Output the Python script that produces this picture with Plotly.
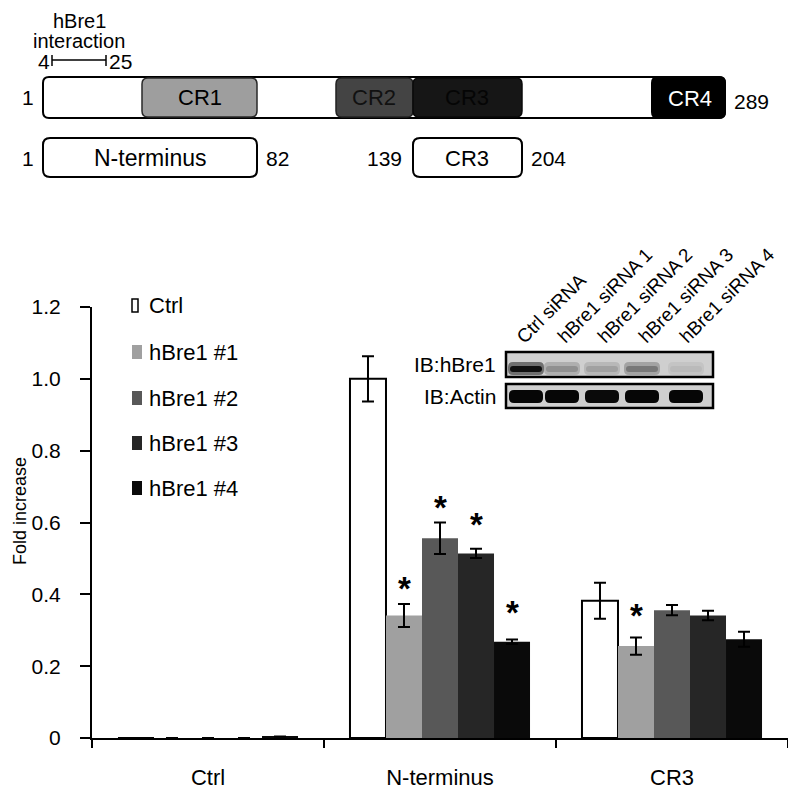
import plotly.graph_objects as go

# the page puts the figure 8px in from the top-left corner, so the figure is
# made 8px smaller and all pixel positions below are given in window pixels
OFF = 8
W, H = 796 - OFF, 794 - OFF
FONT = "Arial, Liberation Sans, sans-serif"

# -------- DATA --------
categories = ["Ctrl", "N-terminus", "CR3"]
series_names = ["Ctrl", "hBre1 #1", "hBre1 #2", "hBre1 #3", "hBre1 #4"]

ctrl_vals = [0, 1.000, 0.382]
kd1_vals = [0, 0.341, 0.256]
kd2_vals = [0, 0.556, 0.356]
kd3_vals = [0, 0.514, 0.341]
kd4_vals = [0.004, 0.268, 0.275]

ctrl_err = [0, 0.063, 0.050]
kd1_err = [0, 0.032, 0.024]
kd2_err = [0, 0.044, 0.014]
kd3_err = [0, 0.013, 0.013]
kd4_err = [0, 0.006, 0.021]

# significance marks: (category, series index, y position of the star)
star_cat = ["N-terminus", "N-terminus", "N-terminus", "N-terminus", "CR3"]
star_idx = [1, 2, 3, 4, 1]
star_y = [0.436, 0.660, 0.614, 0.370, 0.361]

y_ticks = [0, 0.2, 0.4, 0.6, 0.8, 1.0, 1.2]
y_ticktext = ["0", "0.2", "0.4", "0.6", "0.8", "1.0", "1.2"]

blot_lanes = ["Ctrl siRNA", "hBre1 siRNA 1", "hBre1 siRNA 2", "hBre1 siRNA 3", "hBre1 siRNA 4"]
hbre1_band = [0.92, 0.30, 0.22, 0.42, 0.10]
actin_band = [0.97, 0.97, 0.95, 0.97, 0.97]

colors = ["#ffffff", "#a0a0a0", "#585858", "#262626", "#0a0a0a"]


def px(x):
    return (x - OFF) / W


def py(y):
    return 1 - (y - OFF) / H


def rrect(x0, y0, x1, y1, r):
    # rounded rectangle as svg path, pixel coords -> paper coords
    p = lambda x, y: f"{px(x):.5f},{py(y):.5f}"
    return (f"M {p(x0 + r, y0)} L {p(x1 - r, y0)} Q {p(x1, y0)} {p(x1, y0 + r)} "
            f"L {p(x1, y1 - r)} Q {p(x1, y1)} {p(x1 - r, y1)} "
            f"L {p(x0 + r, y1)} Q {p(x0, y1)} {p(x0, y1 - r)} "
            f"L {p(x0, y0 + r)} Q {p(x0, y0)} {p(x0 + r, y0)} Z")


shapes = []
annotations = []


def label(text, x, y, size=21, color="black", xanchor="center", **kw):
    annotations.append(dict(text=text, x=px(x), y=py(y), xref="paper", yref="paper",
                            xanchor=xanchor, yanchor="middle", showarrow=False, borderpad=0,
                            font=dict(family=FONT, size=size, color=color), **kw))


def box(x0, y0, x1, y1, r, fill, line="black", lw=2):
    shapes.append(dict(type="path", path=rrect(x0, y0, x1, y1, r), xref="paper", yref="paper",
                       fillcolor=fill, line=dict(color=line, width=lw)))


# -------- BAR CHART --------
fig = go.Figure()
vals = [ctrl_vals, kd1_vals, kd2_vals, kd3_vals, kd4_vals]
errs = [ctrl_err, kd1_err, kd2_err, kd3_err, kd4_err]
for i, name in enumerate(series_names):
    fig.add_trace(go.Bar(
        x=categories, y=vals[i], name=name,
        marker=dict(color=colors[i], line=dict(color="black", width=2 if i == 0 else 0)),
        error_y=dict(type="data", array=errs[i], color="black", thickness=2, width=6),
    ))

bar_px = 36
for c, i, y in zip(star_cat, star_idx, star_y):
    annotations.append(dict(text="<b>*</b>", x=c, y=y, xref="x", yref="y", showarrow=False,
                            xanchor="center", yanchor="middle",
                            xshift=(i - 2) * bar_px, yshift=-7,
                            font=dict(family=FONT, size=33, color="black")))

# y title
label("Fold increase", 20, 511, size=18, textangle=-90)

# legend drawn by hand
leg_y = [305, 352, 398, 443, 488]
for i, name in enumerate(series_names):
    if i == 0:
        shapes.append(dict(type="rect", xref="paper", yref="paper", x0=px(132), x1=px(138),
                           y0=py(leg_y[i] - 6), y1=py(leg_y[i] + 7), fillcolor="white",
                           line=dict(color="black", width=1.5)))
    else:
        shapes.append(dict(type="rect", xref="paper", yref="paper", x0=px(132), x1=px(142),
                           y0=py(leg_y[i] - 7), y1=py(leg_y[i] + 7), fillcolor=colors[i],
                           line=dict(width=0)))
    label(name, 148, leg_y[i], size=22, xanchor="left")

# -------- PROTEIN DIAGRAM --------
box(43, 77, 725, 118, 6, "white")
box(142, 78, 257, 117, 6, "#9e9e9e", line="#2a2a2a", lw=1.5)
box(336, 78, 413, 117, 6, "#444444", line="#222222", lw=1.5)
box(413, 78, 522, 117, 6, "#161616", line="#0a0a0a", lw=1.5)
box(652, 77, 725, 118, 6, "#000000")
label("CR1", 200, 98, size=22)
label("CR2", 374, 98, size=22, color="#111111")
label("CR3", 467, 98, size=22, color="#050505")
label("CR4", 690, 99, size=22, color="white")
label("1", 28, 98)
label("289", 751, 101)

box(43, 138, 257, 177, 7, "white")
box(413, 138, 522, 177, 7, "white")
label("N-terminus", 150, 158, size=23)
label("CR3", 467, 158, size=22)
label("1", 28, 158)
label("82", 277, 158)
label("139", 384, 158)
label("204", 548, 158)

label("hBre1", 79, 21, size=20)
label("interaction", 79, 41, size=20)
label("4", 44, 61)
label("25", 120, 61)
shapes.append(dict(type="line", xref="paper", yref="paper", x0=px(52), x1=px(106), y0=py(60), y1=py(60),
                   line=dict(color="black", width=1.5)))
for xc in (52, 106):
    shapes.append(dict(type="line", xref="paper", yref="paper", x0=px(xc), x1=px(xc), y0=py(55), y1=py(66),
                       line=dict(color="black", width=1.5)))

# -------- WESTERN BLOT INSET --------
lane_x = [526, 562, 602, 642, 686]
lane_start = [521, 562, 602, 643, 684]
for r0, r1 in ((352, 377), (384, 408)):
    shapes.append(dict(type="rect", xref="paper", yref="paper", x0=px(506), x1=px(713),
                       y0=py(r0), y1=py(r1), fillcolor="#cfcfcf", line=dict(color="black", width=2.5)))
for i in range(len(blot_lanes)):
    g = int(207 * (1 - hbre1_band[i] * 0.5))
    box(lane_x[i] - 18, 362, lane_x[i] + 18, 375, 5, f"rgb({g},{g},{g})", lw=0)
    g = int(207 * (1 - hbre1_band[i]))
    box(lane_x[i] - 16, 366, lane_x[i] + 16, 372, 3, f"rgb({g},{g},{g})", lw=0)
    g = int(207 * (1 - actin_band[i]))
    box(lane_x[i] - 17, 390, lane_x[i] + 17, 403, 5, f"rgb({g},{g},{g})", lw=0)
    annotations.append(dict(text=blot_lanes[i], x=px(lane_start[i] - 10), y=py(349), xref="paper", yref="paper",
                            showarrow=False, textangle=-45, xanchor="left", yanchor="bottom", borderpad=0,
                            font=dict(family=FONT, size=19, color="black")))
label("IB:hBre1", 497, 365, size=21, xanchor="right")
label("IB:Actin", 497, 396, size=21, xanchor="right")

fig.update_layout(
    width=W, height=H,
    margin=dict(l=0, r=0, t=0, b=0),
    paper_bgcolor="white", plot_bgcolor="white",
    barmode="group", bargap=0.224, bargroupgap=0,
    showlegend=False,
    shapes=shapes, annotations=annotations,
    font=dict(family=FONT, color="black"),
    xaxis=dict(domain=[px(92), px(788)], showline=True, linecolor="black", linewidth=2,
               ticks="outside", tickson="boundaries", ticklen=8, tickwidth=2, tickcolor="black",
               tickfont=dict(size=22), ticklabelstandoff=19, showgrid=False, automargin=False),
    yaxis=dict(domain=[py(738), py(307)], range=[0, 1.2], tickvals=y_ticks, ticktext=y_ticktext,
               showline=True, linecolor="black", linewidth=2, ticks="outside", ticklen=10,
               tickwidth=2, tickcolor="black", tickfont=dict(size=21), ticklabelstandoff=15,
               showgrid=False, zeroline=False, automargin=False),
)

fig.write_html("out.html")
